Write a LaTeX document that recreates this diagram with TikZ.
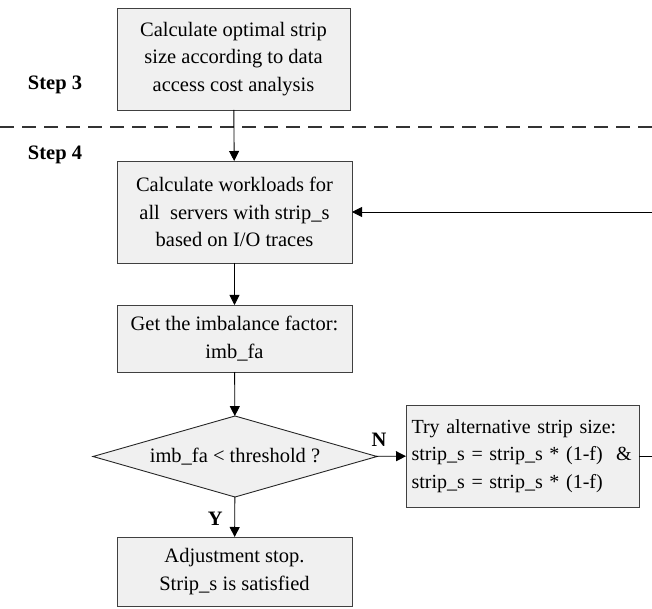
\documentclass[tikz,border=0pt]{standalone}
\usepackage{fontspec}
\setmainfont{Liberation Serif}
\usetikzlibrary{arrows.meta,shapes.geometric,positioning}
\tikzset{
  base/.style={font=\fontsize{20.5}{27.5}\selectfont, align=center, inner sep=2pt, outer sep=0mm},
  proc/.style={rectangle, draw=black!75, line width=0.9pt, minimum width=235pt, minimum height=102pt, align=center, fill=gray!12, base},
  decision/.style={diamond, draw=black!85, line width=0.9pt, aspect=3.5, inner sep=0pt, minimum width=284pt, minimum height=81pt, fill=gray!12, base},
  steplabel/.style={base, font=\fontsize{20.5}{24}\selectfont\bfseries},
  arrow/.style={-{Triangle[length=10pt,width=10pt]}, line width=0.9pt, color=black}
}
\begin{document}
\begin{tikzpicture}[x=1pt, y=1pt]
  \useasboundingbox (0,0) rectangle (652,608);

  \node[proc, minimum width=233pt] (strip) at (233.5,549) {Calculate optimal strip\\size according to data\\access cost analysis};
  \node[proc] (work) at (234.5,396) {Calculate workloads for\\all\ \ servers with strip\_s\\based on I/O traces};
  \node[proc, minimum height=67pt] (imb) at (234.5,269.5) {Get the imbalance factor:\\imb\_fa};
  \node[decision] (check) at (235,151.5) {imb\_fa \textless{} threshold ?};
  \node[proc, minimum width=233pt, align=left, inner xsep=5.5pt, text width=222pt, font=\fontsize{20}{27.5}\selectfont] (try) at (522.5,152) {Try alternative strip size:\\\mbox{strip\_s = strip\_s * (1-f)\ \ \&}\\strip\_s = strip\_s * (1-f)};
  \node[proc, minimum height=69pt] (stop) at (234.5,36.5) {Adjustment stop.\\Strip\_s is satisfied};

  \node[steplabel] (step3) at (55,523) {Step 3};
  \node[steplabel] (step4) at (55,453) {Step 4};

  \draw[dashed, dash pattern=on 14pt off 8pt, line width=1.3pt, black!80] (0,481) -- (652,481);

  \draw[arrow] (strip) -- (work);
  \draw[arrow] (work) -- (imb);
  \draw[arrow] (imb) -- (check);
  \draw[arrow] (check) -- node[steplabel, above, pos=0.1, yshift=8pt] {N} (try);
  \draw[arrow] (check) -- node[steplabel, left, pos=0.55, xshift=-10pt] {Y} (stop);

  \coordinate (loop) at (662,152);
  \draw[arrow] (try.east) -- (loop) |- (work.east);
\end{tikzpicture}
\end{document}
